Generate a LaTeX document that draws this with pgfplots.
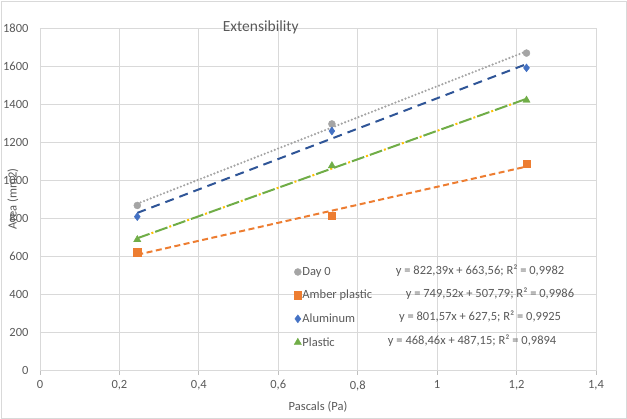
\documentclass[border=0pt]{standalone}
\usepackage{fontspec}
\setmainfont{Carlito}
\usepackage{pgfplots}
\usepackage{pgfplotstable}
\pgfplotsset{compat=1.18}

\definecolor{txtgray}{RGB}{89,89,89}
\definecolor{gridgray}{RGB}{217,217,217}
\definecolor{axgray}{RGB}{191,191,191}
\definecolor{daygray}{RGB}{165,165,165}
\definecolor{amber}{RGB}{237,125,49}
\definecolor{alublue}{RGB}{68,114,196}
\definecolor{aludark}{RGB}{47,85,151}
\definecolor{plgreen}{RGB}{112,173,71}
\definecolor{plyellow}{RGB}{255,192,0}

% x = pressure (Pa), y = area (mm2)
\pgfplotstableread{
x y
0.245 866
0.735 1295
1.225 1668
}\dayzero
\pgfplotstableread{
x y
0.245 620
0.735 812
1.225 1084
}\amberplastic
\pgfplotstableread{
x y
0.245 807
0.735 1258
1.225 1590
}\aluminum
\pgfplotstableread{
x y
0.245 686
0.735 1075
1.225 1420
}\plastic

\begin{document}
\begin{tikzpicture}
\useasboundingbox (-40pt,-49pt) rectangle (587pt,370pt);
\draw[gridgray, line width=0.8pt] (-39pt,-48pt) rectangle (586pt,369pt);
\begin{axis}[
  scale only axis,
  width=556pt, height=342pt,
  xmin=0, xmax=1.4, ymin=0, ymax=1800,
  xtick={0,0.2,...,1.4}, ytick={0,200,...,1800},
  grid=major,
  major grid style={draw=gridgray, line width=0.8pt},
  axis line style={draw=gridgray, line width=0.8pt},
  x axis line style={draw=axgray},
  xtick pos=bottom, tick align=outside,
  major tick length=5pt,
  xtick style={draw=axgray, line width=0.8pt},
  ytick style={draw=none},
  /pgf/number format/use comma,
  /pgf/number format/1000 sep={},
  /pgf/number format/assume math mode=true,
  tick label style={font=\fontsize{12.5}{14}\selectfont, text=txtgray},
  yticklabel style={xshift=-3pt},
  xticklabel style={yshift=-2pt},
  title={Extensibility},
  title style={font=\fontsize{15.5}{18}\selectfont, text=txtgray,
    at={(axis description cs:0.397,0.994)}, anchor=base, yshift=-7pt},
  xlabel={Pascals (Pa)},
  ylabel={Area (mm2)},
  label style={font=\fontsize{12.5}{14}\selectfont, text=txtgray},
  xlabel style={at={(axis description cs:0.5,-0.108)}, anchor=center},
  ylabel style={at={(axis description cs:-0.0486,0.5)}, anchor=center},
  legend style={at={(axis cs:0.632,558)}, anchor=north west, draw=none, fill=none,
    font=\fontsize{12.5}{14}\selectfont, text=txtgray, row sep=11.4pt,
    nodes={inner sep=1pt}},
  legend cell align=left,
  legend image code/.code={\draw[#1] plot coordinates {(3pt,0pt)};},
]
% trend lines
\addplot[forget plot, daygray, line width=2.4pt, dash pattern=on 0pt off 3.6pt, line cap=round]
  table[x=x, y={create col/linear regression={y=y}}] {\dayzero};
\addplot[forget plot, amber, line width=2pt, dash pattern=on 6pt off 3.5pt]
  table[x=x, y={create col/linear regression={y=y}}] {\amberplastic};
\addplot[forget plot, aludark, line width=2pt, dash pattern=on 9pt off 6pt]
  table[x=x, y={create col/linear regression={y=y}}] {\aluminum};
\addplot[forget plot, plyellow, line width=2pt, dash pattern=on 2pt off 17pt, dash phase=-15pt]
  table[x=x, y={create col/linear regression={y=y}}] {\plastic};
\addplot[forget plot, plgreen, line width=2pt, dash pattern=on 13pt off 6pt]
  table[x=x, y={create col/linear regression={y=y}}] {\plastic};
% data
\addplot[only marks, mark=*, mark size=3.5pt, daygray, mark options={draw=daygray, fill=daygray}]
  table[x=x, y=y] {\dayzero};
\addplot[only marks, mark=square*, mark size=3.6pt, amber, mark options={draw=amber, fill=amber}]
  table[x=x, y=y] {\amberplastic};
\addplot[only marks, mark=diamond*, mark size=4pt, alublue, mark options={draw=alublue, fill=alublue}]
  table[x=x, y=y] {\aluminum};
\addplot[only marks, mark=triangle*, mark size=4.2pt, plgreen, mark options={draw=plgreen, fill=plgreen}]
  table[x=x, y=y] {\plastic};
\legend{Day 0, Amber plastic, Aluminum, Plastic}
% trend line equations
\begin{scope}[every node/.style={font=\fontsize{12.5}{14}\selectfont, text=txtgray, anchor=center}]
\node at (axis cs:1.108,521) {y = 822,39x + 663,56; R² = 0,9982};
\node at (axis cs:1.133,400) {y = 749,52x + 507,79; R² = 0,9986};
\node at (axis cs:1.108,279) {y = 801,57x + 627,5; R² = 0,9925};
\node at (axis cs:1.088,153) {y = 468,46x + 487,15; R² = 0,9894};
\end{scope}
\end{axis}
\end{tikzpicture}
\end{document}
